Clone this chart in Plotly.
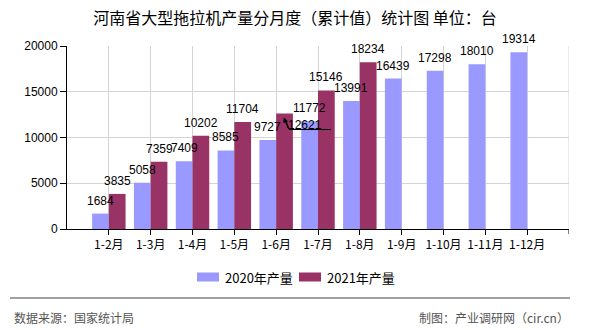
import plotly.graph_objects as go

categories = ["1-2月", "1-3月", "1-4月", "1-5月", "1-6月", "1-7月", "1-8月", "1-9月", "1-10月", "1-11月", "1-12月"]
prod_2020 = [1684, 5058, 7409, 8585, 9727, 11772, 13991, 16439, 17298, 18010, 19314]
prod_2021 = [3835, 7359, 10202, 11704, 12621, 15146, 18234, None, None, None, None]
series_names = ["2020年产量", "2021年产量"]
colors = ["#9999FF", "#993366"]
y_ticks = [0, 5000, 10000, 15000, 20000]

FONT = "Noto Sans CJK SC"
LFONT = "Liberation Sans"
fig = go.Figure()
fig.add_trace(go.Bar(x=categories, y=prod_2020, name=series_names[0], marker_color=colors[0],
                     marker_line_width=0, showlegend=False))
fig.add_trace(go.Bar(x=categories, y=prod_2021, name=series_names[1], marker_color=colors[1],
                     marker_line_width=0, showlegend=False))

annotations = []
callout_idx = 4
lab_font = dict(size=12, color="black", family=LFONT)
for i, v in enumerate(prod_2020):
    if v is not None:
        annotations.append(dict(x=i - 0.2, y=v, text=str(v), showarrow=False, yshift=13,
                                font=lab_font))
for i, v in enumerate(prod_2021):
    if v is None:
        continue
    if i == callout_idx:
        # displaced label with leader line
        annotations.append(dict(x=i + 0.69, y=v, text=str(v), showarrow=False, yshift=-11,
                                font=lab_font))
        annotations.append(dict(x=i + 0.18, y=v, text="", showarrow=True, arrowhead=2,
                                arrowsize=1, arrowwidth=1, arrowcolor="black",
                                ax=5, ay=12, yshift=-4))
    else:
        annotations.append(dict(x=i + 0.2, y=v, text=str(v), showarrow=False, yshift=13,
                                font=lab_font))

shapes = []
# leader line for callout
v = prod_2021[callout_idx]
shapes.append(dict(type="path", xref="x", yref="y",
                   path=f"M {callout_idx + 1.31} {v - 1750} L {callout_idx + 0.31} {v - 1750} L {callout_idx + 0.22} {v - 600}",
                   line=dict(color="black", width=1)))
# right edge grid line and end tick
shapes.append(dict(type="line", xref="x", yref="paper", x0=11, x1=11, y0=0, y1=1,
                   line=dict(color="#d4d4d4", width=1), layer="below"))
shapes.append(dict(type="line", xref="x", yref="paper", x0=11, x1=11, y0=0, y1=-0.027,
                   line=dict(color="black", width=1)))
# footer separator
shapes.append(dict(type="line", xref="paper", yref="paper", x0=-57/502, x1=503/502,
                   y0=(229 - 298) / 183, y1=(229 - 298) / 183, line=dict(color="#808080", width=1.5)))
# manual legend
ly = (229 - 277) / 183
for k, (x0, x1) in enumerate([(197, 219), (299, 321)]):
    shapes.append(dict(type="rect", xref="paper", yref="paper",
                       x0=(x0 - 67) / 502, x1=(x1 - 67) / 502,
                       y0=ly - 4.5 / 183, y1=ly + 4.5 / 183,
                       fillcolor=colors[k], line=dict(width=0)))
for k, xt in enumerate([223, 325]):
    annotations.append(dict(xref="paper", yref="paper", x=(xt - 67) / 502, y=ly, xanchor="left",
                            yanchor="middle", text=series_names[k], showarrow=False,
                            font=dict(size=13, color="black", family=FONT)))

# footer texts
annotations.append(dict(xref="paper", yref="paper", x=(12 - 67) / 502, y=(229 - 317) / 183,
                        xanchor="left", yanchor="middle", text="数据来源：国家统计局", showarrow=False,
                        font=dict(size=12, color="#555555", family=FONT)))
annotations.append(dict(xref="paper", yref="paper", x=(571 - 67) / 502, y=(229 - 317) / 183,
                        xanchor="right", yanchor="middle", text="制图：产业调研网（cir.cn）", showarrow=False,
                        font=dict(size=12, color="#555555", family=FONT)))

fig.update_layout(
    width=590, height=330,
    margin=dict(l=67, r=21, t=46, b=101),
    paper_bgcolor="white", plot_bgcolor="white",
    title=dict(text="河南省大型拖拉机产量分月度（累计值）统计图 单位：台", x=295 / 590, xref="container",
               xanchor="center", y=1 - 18 / 330, yanchor="middle", yref="container",
               font=dict(size=16, color="black", family=FONT)),
    bargap=0.2, bargroupgap=0,
    barmode="group",
    annotations=annotations, shapes=shapes,
    font=dict(family=FONT),
)
fig.update_xaxes(type="category", range=[-1, 11], showgrid=True, gridcolor="#d4d4d4",
                 showline=True, linecolor="black", linewidth=1,
                 ticks="outside", ticklen=5, tickcolor="black",
                 tickfont=dict(size=12, color="black", family=FONT), fixedrange=True)
fig.update_yaxes(range=[0, 20000], tickvals=y_ticks, ticktext=[str(t) for t in y_ticks],
                 showgrid=True, gridcolor="#d4d4d4",
                 showline=True, linecolor="black", linewidth=1,
                 ticks="outside", ticklen=6, tickcolor="black", zeroline=False,
                 tickfont=dict(size=12, color="black", family=LFONT))

fig.write_html("out.html")
